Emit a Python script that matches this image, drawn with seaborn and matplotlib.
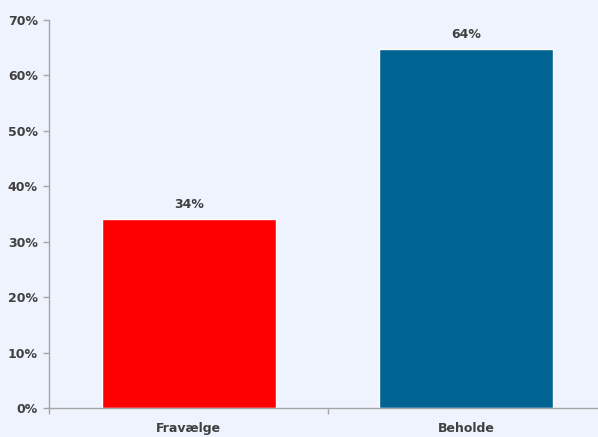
import matplotlib
matplotlib.use("Agg")
import matplotlib.pyplot as plt
import numpy as np
import pandas as pd
import seaborn as sns

categories   = ["Fravælge", "Beholde"]
shares       = [34.1, 64.7]
value_labels = ["34%", "64%"]
bar_colors   = ["#FF0000", "#006391"]

bg         = "#EFF3FE"
text_color = "#404040"
axis_color = "#A6A6A6"

sns.set_style("white")
plt.rcParams['font.family'] = ['DejaVu Sans']

df = pd.DataFrame({"kategori": categories, "andel": shares})

fig = plt.figure(figsize=(5.98, 4.37), dpi=100, facecolor=bg)
ax = fig.add_axes([49 / 598, 1 - 408 / 437, 1 - 49 / 598, (408 - 20) / 437])
ax.set_facecolor(bg)

sns.barplot(data=df, x="kategori", y="andel", hue="kategori", palette=bar_colors,
            width=0.627, legend=False, ax=ax, saturation=1)

for i, (v, lab) in enumerate(zip(shares, value_labels)):
    ax.annotate(lab, (i, v), xytext=(0, 6), textcoords="offset points", ha="center", va="bottom",
                fontsize=9, fontweight="bold", color=text_color)

ax.set_ylim(0, 70)
ax.set_xlim(-0.504, 1.474)
ax.set_yticks(np.arange(0, 71, 10))
ax.set_yticklabels(["{}%".format(t) for t in range(0, 71, 10)])
ax.set_xticks([0, 1])
ax.set_xticklabels(categories)
ax.set_xticks([-0.504, 0.5], minor=True)
ax.tick_params(axis="x", which="major", bottom=True, length=0, pad=10)
ax.tick_params(axis="x", which="minor", bottom=True, length=4, width=1, color=axis_color, direction="out")
ax.tick_params(axis="y", left=True, length=4, width=1, color=axis_color, direction="out", pad=4)
for lab in ax.get_xticklabels() + ax.get_yticklabels():
    lab.set_fontweight("bold")
    lab.set_fontsize(9)
    lab.set_color(text_color)
ax.set_xlabel("")
ax.set_ylabel("")
for s in ["top", "right"]:
    ax.spines[s].set_visible(False)
for s in ["left", "bottom"]:
    ax.spines[s].set_color(axis_color)
    ax.spines[s].set_linewidth(1)

fig.savefig("out.png", dpi=100, facecolor=bg)
